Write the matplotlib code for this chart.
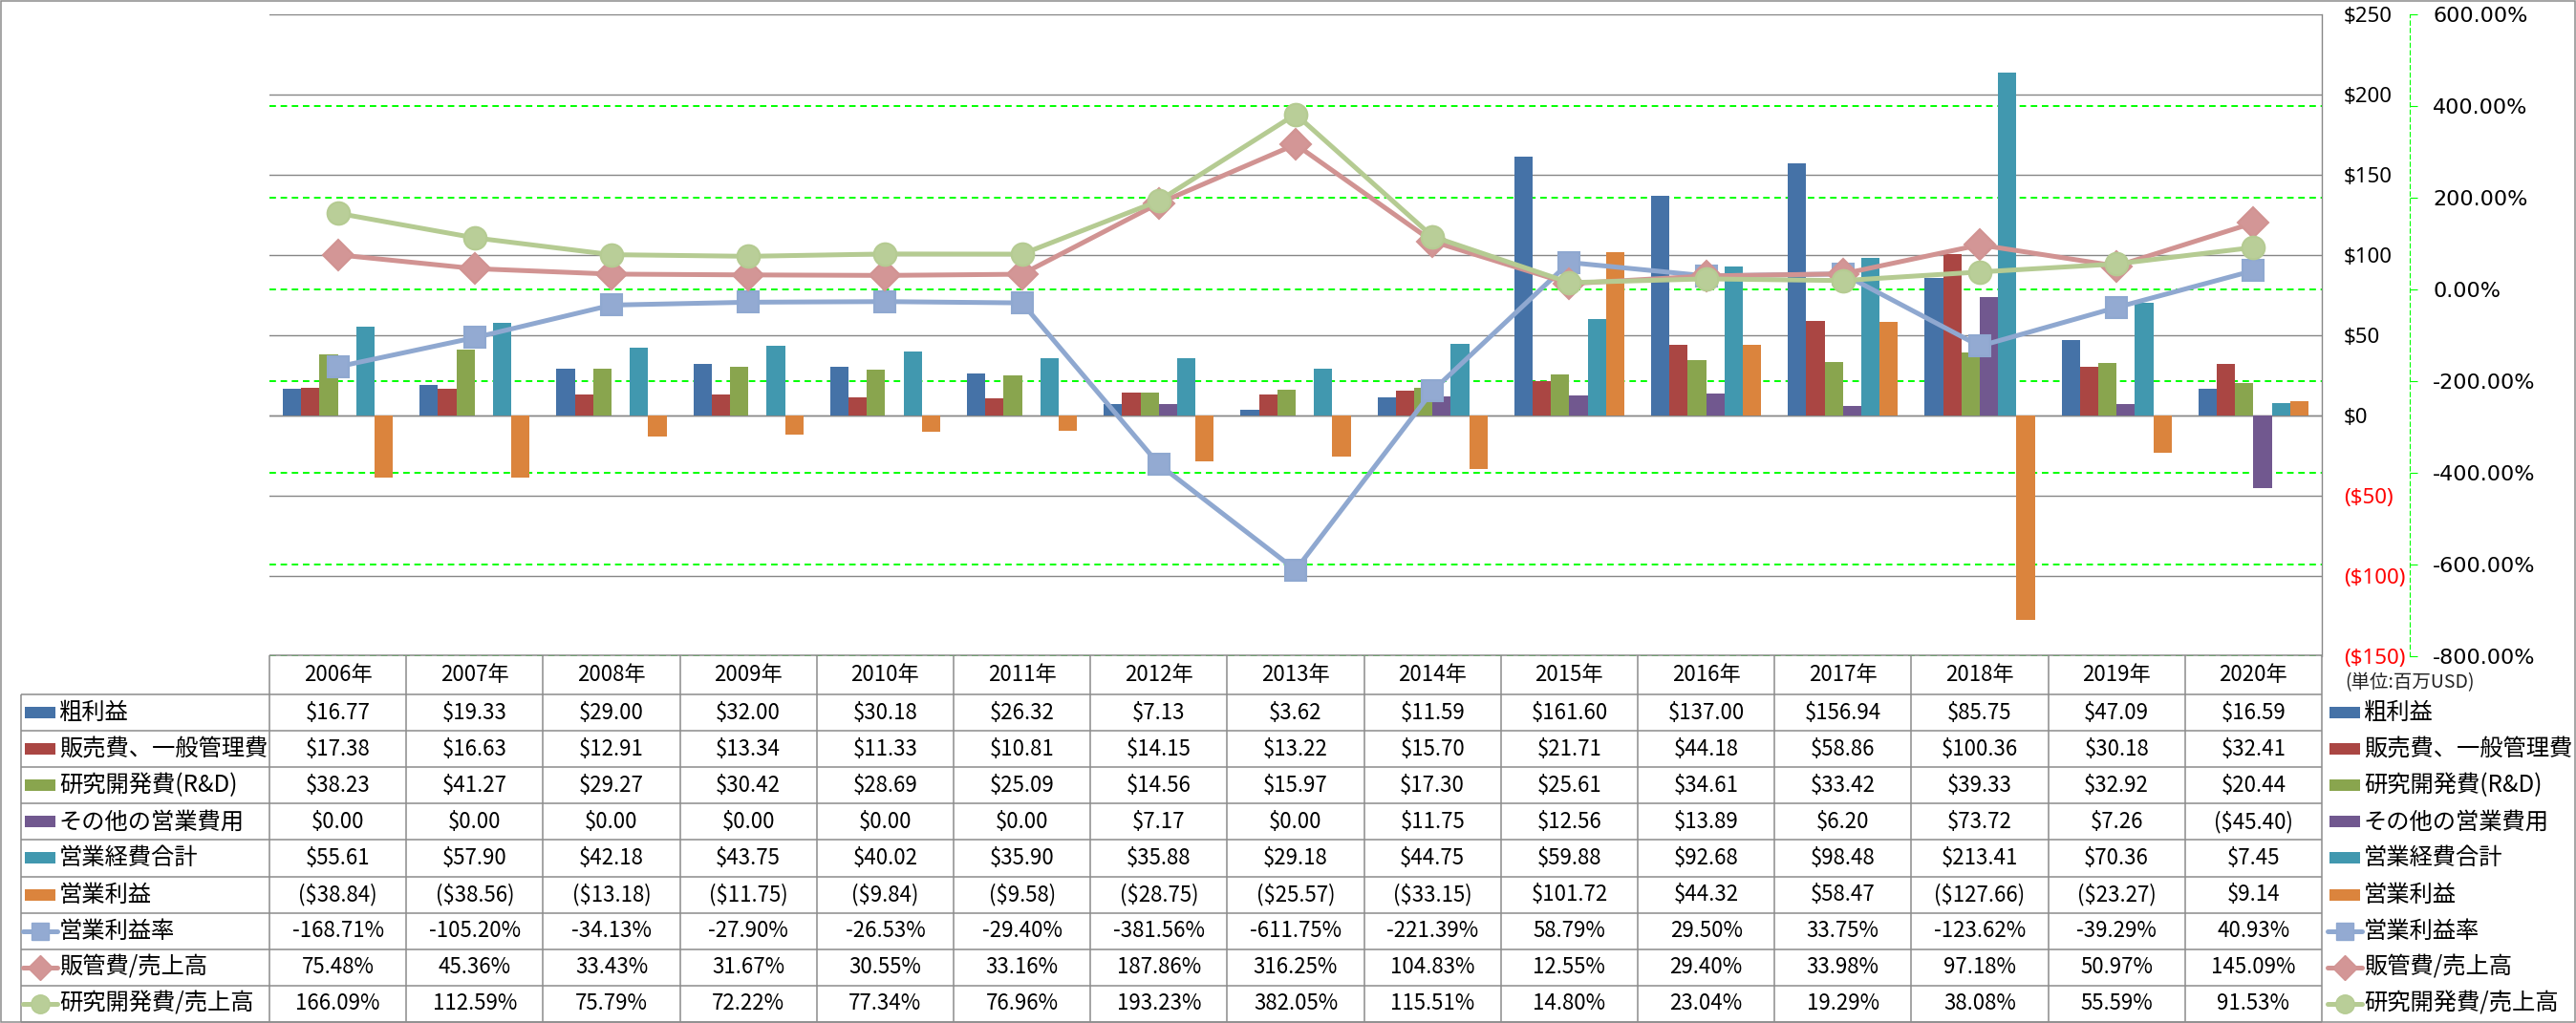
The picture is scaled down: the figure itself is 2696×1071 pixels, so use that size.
import matplotlib
matplotlib.use('Agg')
import matplotlib.pyplot as plt
from matplotlib.lines import Line2D
from matplotlib.patches import Rectangle
import numpy as np

# ---------------- data ----------------
years = [2006, 2007, 2008, 2009, 2010, 2011, 2012, 2013, 2014, 2015, 2016, 2017, 2018, 2019, 2020]
year_labels = [f"{y}年" for y in years]

bar_names = ["粗利益", "販売費、一般管理費", "研究開発費(R&D)", "その他の営業費用", "営業経費合計", "営業利益"]
gross = [16.77, 19.33, 29.00, 32.00, 30.18, 26.32, 7.13, 3.62, 11.59, 161.60, 137.00, 156.94, 85.75, 47.09, 16.59]
sga = [17.38, 16.63, 12.91, 13.34, 11.33, 10.81, 14.15, 13.22, 15.70, 21.71, 44.18, 58.86, 100.36, 30.18, 32.41]
rnd = [38.23, 41.27, 29.27, 30.42, 28.69, 25.09, 14.56, 15.97, 17.30, 25.61, 34.61, 33.42, 39.33, 32.92, 20.44]
other = [0.00, 0.00, 0.00, 0.00, 0.00, 0.00, 7.17, 0.00, 11.75, 12.56, 13.89, 6.20, 73.72, 7.26, -45.40]
opex = [55.61, 57.90, 42.18, 43.75, 40.02, 35.90, 35.88, 29.18, 44.75, 59.88, 92.68, 98.48, 213.41, 70.36, 7.45]
opinc = [-38.84, -38.56, -13.18, -11.75, -9.84, -9.58, -28.75, -25.57, -33.15, 101.72, 44.32, 58.47, -127.66, -23.27, 9.14]

line_names = ["営業利益率", "販管費/売上高", "研究開発費/売上高"]
op_margin = [-168.71, -105.20, -34.13, -27.90, -26.53, -29.40, -381.56, -611.75, -221.39, 58.79, 29.50, 33.75, -123.62, -39.29, 40.93]
sga_ratio = [75.48, 45.36, 33.43, 31.67, 30.55, 33.16, 187.86, 316.25, 104.83, 12.55, 29.40, 33.98, 97.18, 50.97, 145.09]
rnd_ratio = [166.09, 112.59, 75.79, 72.22, 77.34, 76.96, 193.23, 382.05, 115.51, 14.80, 23.04, 19.29, 38.08, 55.59, 91.53]

usd_ticks = [-150, -100, -50, 0, 50, 100, 150, 200, 250]
pct_ticks = [-800, -600, -400, -200, 0, 200, 400, 600]
unit_label = "(単位:百万USD)"

bar_series = [gross, sga, rnd, other, opex, opinc]
line_series = [op_margin, sga_ratio, rnd_ratio]

# ---------------- style ----------------
bar_colors = ["#4572A7", "#AA4643", "#89A54E", "#71588F", "#4198AF", "#DB843D"]
line_colors = ["#8FA8D0", "#D19392", "#B5CB92"]
marker_face = ["#93AAD2", "#D39696", "#B9CE98"]
markers = ["s", "D", "o"]
msizes = [16, 16, 17]

JP = ['Noto Sans CJK JP', 'DejaVu Sans']
AXF = ['Noto Sans', 'DejaVu Sans']
GRID_GRAY = "#868686"
BORDER = "#8C8C8C"
GREEN = "#00FF00"

W, H, DPI = 2696, 1071, 100
PX = 72.0 / DPI  # points per pixel

fig = plt.figure(figsize=(W / DPI, H / DPI), dpi=DPI)
fig.patch.set_facecolor("white")

L, R, T, B = 282, 2430, 15, 687
rect = [L / W, 1 - B / H, (R - L) / W, (B - T) / H]

x = np.arange(len(years))

# green secondary grid (lowest)
ax_g = fig.add_axes(rect, zorder=0)
ax_g.set_xlim(-0.5, len(years) - 0.5)
ax_g.set_ylim(pct_ticks[0], pct_ticks[-1])
ax_g.set_yticks(pct_ticks)
ax_g.yaxis.grid(True, color=GREEN, linestyle=(0, (5, 4)), linewidth=0.8)
for t in ax_g.yaxis.get_major_ticks():
    if t.get_loc() == 0:
        t.gridline.set_linewidth(1.4)
        t.gridline.set_linestyle((0, (3.5, 2.5)))
ax_g.tick_params(left=False, right=False, bottom=False, labelleft=False, labelbottom=False)
for s in ax_g.spines.values():
    s.set_visible(False)

# primary: bars
ax = fig.add_axes(rect, zorder=1, sharex=ax_g)
ax.patch.set_visible(False)
ax.set_ylim(usd_ticks[0], usd_ticks[-1])
ax.set_axisbelow(True)
ax.yaxis.grid(True, color=GRID_GRAY, linewidth=1.0)
nb = len(bar_series)
bw = 0.134
for k, (vals, c) in enumerate(zip(bar_series, bar_colors)):
    ax.bar(x + (k - (nb - 1) / 2) * bw, vals, width=bw, color=c, linewidth=0, zorder=2)
ax.axhline(0, color=GRID_GRAY, linewidth=1.0, zorder=1.5)
ax.yaxis.tick_right()
usd_labels = [f"${v}" if v >= 0 else f"(${-v})" for v in usd_ticks]
ax.set_yticks(usd_ticks, usd_labels)
ax.tick_params(axis='y', length=0, pad=23 * PX, labelsize=16)
for lab, v in zip(ax.get_yticklabels(), usd_ticks):
    lab.set_color("red" if v < 0 else "black")
    lab.set_family(AXF)
ax.tick_params(axis='x', bottom=False, labelbottom=False)
for n in ["left", "top", "bottom"]:
    ax.spines[n].set_visible(False)
ax.spines["right"].set_color(GRID_GRAY)
ax.spines["right"].set_linewidth(1.0)

# secondary: lines
ax2 = fig.add_axes(rect, zorder=2, sharex=ax_g)
ax2.patch.set_visible(False)
ax2.set_ylim(pct_ticks[0], pct_ticks[-1])
for vals, lc, mf, mk, ms in zip(line_series, line_colors, marker_face, markers, msizes):
    ax2.plot(x, vals, color=lc, linewidth=3.6, marker=mk, markersize=ms,
             markerfacecolor=mf, markeredgecolor=lc, markeredgewidth=1.5,
             solid_joinstyle='round')
ax2.yaxis.tick_right()
pct_labels = [f"{v:.2f}%" for v in pct_ticks]
ax2.set_yticks(pct_ticks, pct_labels)
ax2.tick_params(axis='y', direction='out', length=8 * PX, width=0.8, color=GREEN,
                pad=16 * PX, labelsize=16)
for lab, v in zip(ax2.get_yticklabels(), pct_ticks):
    lab.set_color("red" if v < 0 else "black")
    lab.set_family(AXF)
ax2.tick_params(axis='x', bottom=False, labelbottom=False)
for n in ["left", "top", "bottom"]:
    ax2.spines[n].set_visible(False)
ax2.spines["right"].set_position(("outward", 92 * PX))
ax2.spines["right"].set_color(GREEN)
ax2.spines["right"].set_linestyle((0, (4, 3)))
ax2.spines["right"].set_linewidth(0.8)
ax2.set_xlim(-0.5, len(years) - 0.5)

# ---------------- data table ----------------
at = fig.add_axes([0, 0, 1, 1], zorder=3)
at.set_xlim(0, W)
at.set_ylim(H, 0)
at.axis("off")
at.patch.set_visible(False)

ncol = len(years)
col_w = (R - L) / ncol
col_edges = [L + col_w * k for k in range(ncol + 1)]
hdr_top, hdr_bot, row_h = 686, 727, 38.1
nrows = len(bar_series) + len(line_series)
row_edges = [hdr_bot + row_h * k for k in range(nrows + 1)]
LEFT_X = 22

def hline(x0, x1, y):
    at.plot([x0, x1], [y, y], color=BORDER, linewidth=1.1, solid_capstyle='butt')

def vline(xx, y0, y1):
    at.plot([xx, xx], [y0, y1], color=BORDER, linewidth=1.1, solid_capstyle='butt')

hline(L, R, hdr_top)
hline(LEFT_X, R, hdr_bot)
for y in row_edges[1:]:
    hline(LEFT_X, R, y)
vline(LEFT_X, hdr_bot, row_edges[-1])
for xx in col_edges:
    vline(xx, hdr_top, row_edges[-1])

FS = 16
FS_JP = 17.5
for i, lab in enumerate(year_labels):
    at.text(L + col_w * (i + 0.5), (hdr_top + hdr_bot) / 2, lab, ha="center", va="center",
            fontsize=FS, family=JP)

def fmt_usd(v):
    return f"${v:,.2f}" if v >= 0 else f"(${-v:,.2f})"

def fmt_pct(v):
    return f"{v:.2f}%"

all_names = bar_names + line_names
all_vals = bar_series + line_series
for r, (name, vals) in enumerate(zip(all_names, all_vals)):
    yc = (row_edges[r] + row_edges[r + 1]) / 2
    fmt = fmt_usd if r < len(bar_series) else fmt_pct
    for i, v in enumerate(vals):
        at.text(L + col_w * (i + 0.5), yc, fmt(v), ha="center", va="center", fontsize=FS, family=JP)
    # legend keys (left in table, and right outside)
    for kx0, tx in [(26, 62), (2438, 2474)]:
        if r < len(bar_series):
            at.add_patch(Rectangle((kx0, yc - 6), 32, 12, facecolor=bar_colors[r], edgecolor="none"))
        else:
            j = r - len(bar_series)
            at.add_line(Line2D([kx0 - 2, kx0 + 34], [yc, yc], color=line_colors[j], linewidth=3.6,
                               solid_capstyle='round'))
            at.add_line(Line2D([kx0 + 16], [yc], marker=markers[j], markersize=msizes[j] - 3,
                               markerfacecolor=marker_face[j], markeredgecolor=line_colors[j],
                               linestyle="none"))
        at.text(tx, yc, name, ha="left", va="center", fontsize=FS_JP, family=JP)

at.text(2454, 715, unit_label, ha="left", va="center", fontsize=14, family=JP, color="#222222")

# outer frame
at.add_patch(Rectangle((1, 1), W - 2.5, H - 2.5, facecolor="none", edgecolor=BORDER, linewidth=1.1))

fig.savefig("out.png", dpi=DPI, facecolor="white")
